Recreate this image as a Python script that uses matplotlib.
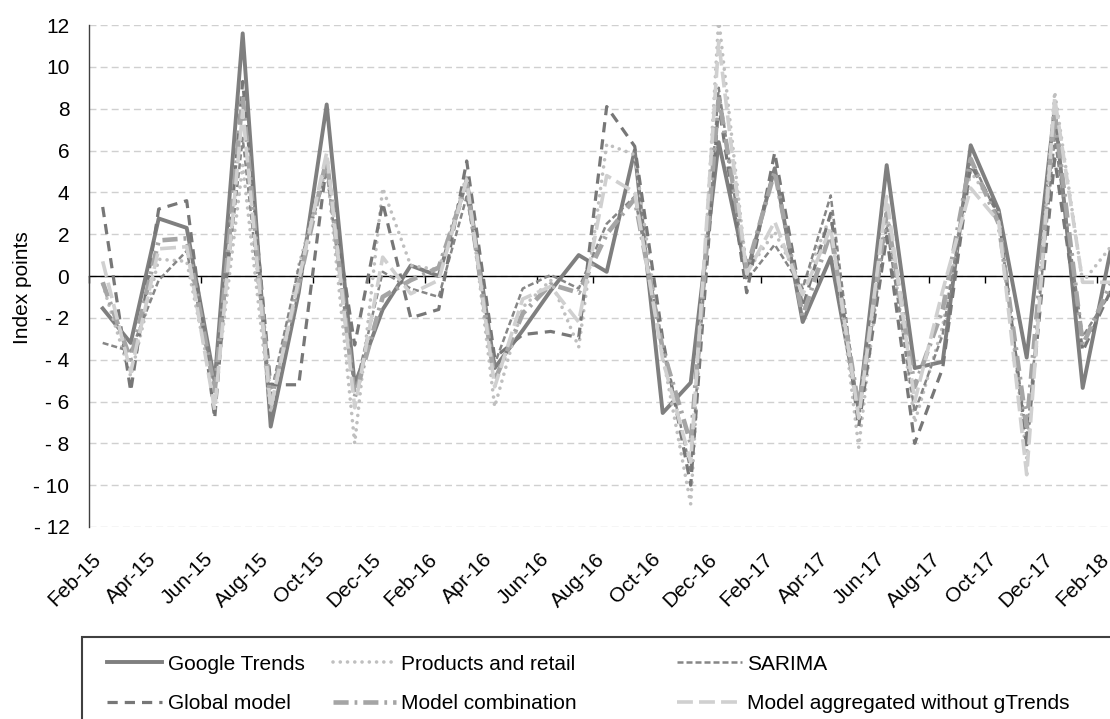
import numpy as np
import matplotlib
matplotlib.use("Agg")
from matplotlib import pyplot as plt
from matplotlib.patches import Rectangle
from matplotlib.transforms import ScaledTranslation

plt.rcParams['font.family'] = ['Liberation Sans', 'DejaVu Sans']

months = ["Feb-15", "Mar-15", "Apr-15", "May-15", "Jun-15", "Jul-15", "Aug-15", "Sep-15",
          "Oct-15", "Nov-15", "Dec-15", "Jan-16", "Feb-16", "Mar-16", "Apr-16", "May-16",
          "Jun-16", "Jul-16", "Aug-16", "Sep-16", "Oct-16", "Nov-16", "Dec-16", "Jan-17",
          "Feb-17", "Mar-17", "Apr-17", "May-17", "Jun-17", "Jul-17", "Aug-17", "Sep-17",
          "Oct-17", "Nov-17", "Dec-17", "Jan-18", "Feb-18"]

google_trends = [-1.55, -3.2, 2.75, 2.3, -5.05, 11.6, -7.2, -0.8, 8.2, -5.2, -1.6, 0.5, 0.0,
                 4.6, -4.4, -2.6, -0.7, 1.0, 0.2, 6.0, -6.55, -5.1, 6.4, 0.1, 5.15, -2.2, 0.9,
                 -6.4, 5.3, -4.4, -4.1, 6.25, 3.15, -3.9, 8.0, -5.35, 1.25]
products_retail = [-0.4, -4.8, 0.8, 0.7, -5.8, 5.3, -6.5, 0.5, 5.2, -8.0, 4.2, 0.5, 0.3,
                   4.8, -6.25, -1.5, -0.2, -3.4, 6.3, 5.8, -3.8, -10.9, 12.3, 0.2, 2.1, -0.5, 2.9,
                   -8.2, 3.2, -7.0, -2.4, 5.0, 3.0, -8.7, 8.8, -0.3, 1.4]
sarima = [-3.2, -3.6, -0.2, 1.2, -5.3, 6.6, -5.7, 0.4, 5.0, -5.5, 0.2, -0.6, -1.0,
          3.8, -4.2, -0.6, 0.05, -0.6, 2.5, 3.8, -3.3, -9.3, 9.0, -0.2, 1.5, -0.6, 3.85,
          -6.8, 2.4, -6.5, -2.8, 5.6, 2.8, -7.8, 6.6, -2.9, -0.8]
global_model = [3.3, -5.5, 3.2, 3.6, -6.8, 9.3, -5.2, -5.2, 5.4, -3.3, 3.5, -2.0, -1.6,
                5.5, -3.9, -2.8, -2.65, -2.95, 8.1, 6.2, -3.0, -10.0, 8.2, -0.8, 5.9, -1.5, 3.0,
                -7.2, 1.9, -8.0, -4.4, 5.3, 3.0, -8.2, 5.6, -3.6, -0.7]
model_combination = [-0.3, -4.0, 1.7, 1.8, -5.5, 8.6, -6.0, -0.4, 5.6, -5.8, -1.0, -0.2, 0.4,
                     4.4, -5.0, -1.8, -0.4, -0.8, 2.0, 3.7, -3.5, -8.0, 8.6, 0.3, 5.0, -1.9, 2.1,
                     -6.3, 3.0, -5.3, -1.6, 5.6, 2.5, -7.2, 7.8, -3.3, -0.4]
model_aggregated = [0.7, -4.6, 1.3, 1.4, -6.4, 7.9, -6.3, -0.2, 5.9, -6.3, 0.9, -0.85, -0.2,
                    4.6, -5.3, -1.1, -0.5, -2.2, 4.8, 4.0, -4.0, -8.9, 11.2, 0.1, 2.6, -0.9, 2.3,
                    -6.8, 3.8, -6.0, -0.7, 4.2, 2.6, -9.5, 8.5, -0.3, -0.3]

y_ticks = [12, 10, 8, 6, 4, 2, 0, -2, -4, -6, -8, -10, -12]
y_tick_labels = ["12", "10", "8", "6", "4", "2", "0", "- 2", "- 4", "- 6", "- 8", "- 10", "- 12"]

series = [
    ("Google Trends", google_trends, dict(color="#7f7f7f", lw=2.8, ls="-")),
    ("Products and retail", products_retail,
     dict(color="#bfbfbf", lw=2.6, ls=(0, (0.01, 2.0)), dash_capstyle="round")),
    ("SARIMA", sarima, dict(color="#868686", lw=1.8, ls=(0, (2.4, 1.2)))),
    ("Global model", global_model, dict(color="#777777", lw=2.3, ls=(0, (3.2, 2.2)))),
    ("Model combination", model_combination,
     dict(color="#a5a5a5", lw=3.3, ls=(0, (3.3, 1.3, 0.6, 1.3)))),
    ("Model aggregated without gTrends", model_aggregated,
     dict(color="#d0d0d0", lw=2.6, ls=(0, (4.4, 1.7)))),
]

W, H = 1110, 719
fig = plt.figure(figsize=(W / 100, H / 100), dpi=100)
# plot area runs slightly past the right edge of the figure
ax = fig.add_axes([88.7 / W, 1 - 527 / H, 1036 / W, 502 / H])

x = np.arange(len(months))
lines = {}
for name, vals, style in series:
    ln, = ax.plot(x, vals, label=name, **style)
    lines[name] = ln

ax.set_xlim(-0.5, len(months) - 0.5)
ax.set_ylim(-12, 12)
ax.set_yticks(y_ticks)
ax.set_yticklabels(y_tick_labels)
ax.tick_params(axis='y', length=0, pad=14, labelsize=15, labelcolor="black")
ax.yaxis.grid(True, ls=(0, (5, 3)), color="#d0d0d0", lw=1)
ax.set_axisbelow(True)

for s in ("top", "right"):
    ax.spines[s].set_visible(False)
ax.spines["left"].set_color("#404040")
ax.spines["left"].set_linewidth(1)
ax.spines["bottom"].set_position(("data", 0))
ax.spines["bottom"].set_color("black")
ax.spines["bottom"].set_linewidth(1)
ax.spines["bottom"].set_zorder(1.5)

# small marks on the zero line between every second category
ax.set_xticks(np.arange(-0.5, len(months), 2))
ax.tick_params(axis='x', length=5, width=1, direction='out', color="black", labelbottom=False)

sec = ax.secondary_xaxis("bottom")
sec.spines["bottom"].set_visible(False)
sec.set_xticks(x[::2], months[::2])
sec.tick_params(length=0, pad=21, labelsize=15)
shift = ScaledTranslation(-5 / 100, 0, fig.dpi_scale_trans)
for lab in sec.get_xticklabels():
    lab.set_rotation(45)
    lab.set_rotation_mode("anchor")
    lab.set_ha("right")
    lab.set_va("center")
    lab.set_transform(lab.get_transform() + shift)

fig.text(23 / W, 1 - 288 / H, "Index points", rotation=90, ha="center", va="center", fontsize=15)

# legend frame, open to the right and bottom of the figure
fig.patches.append(Rectangle((82 / W, -0.1), 1.2, 0.1 + (1 - 637 / H), transform=fig.transFigure,
                             fill=False, edgecolor="#404040", lw=1.5))

columns = [
    (["Google Trends", "Global model"], 107, 2.64),
    (["Products and retail", "Model combination"], 333, 3.0),
    (["SARIMA", "Model aggregated without gTrends"], 677, 3.1),
]
for names, x0, hl in columns:
    fig.legend([lines[n] for n in names], names, loc="center left",
               bbox_to_anchor=(x0 / W, 1 - 684 / H), frameon=False, fontsize=15,
               handlelength=hl, handletextpad=0.28, borderpad=0, borderaxespad=0,
               labelspacing=1.0)

fig.savefig("out.png", dpi=100)
